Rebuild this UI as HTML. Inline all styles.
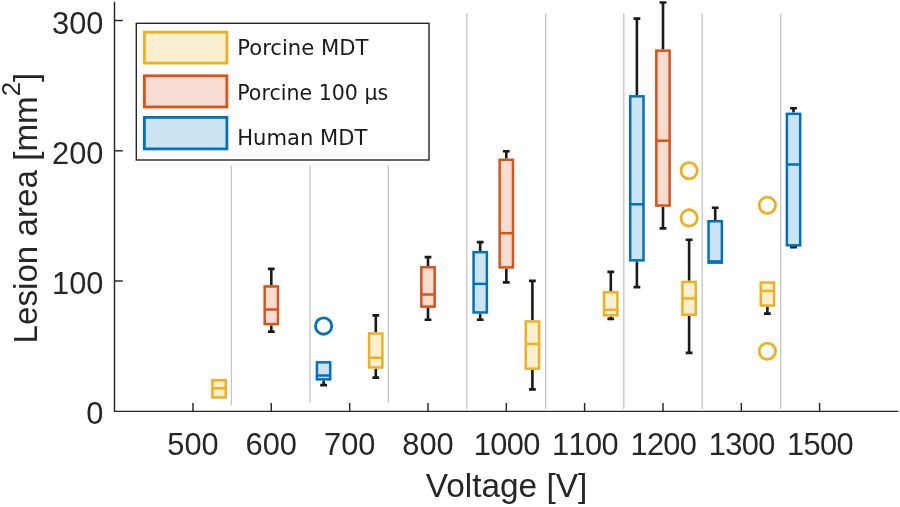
<!DOCTYPE html>
<html lang="en">
<head>
<meta charset="utf-8">
<title>Lesion area vs Voltage</title>
<style>
html,body{margin:0;padding:0;background:#fff;}
body{width:900px;height:507px;overflow:hidden;}
svg{display:block;}
.tick{font-kerning:none;font-family:"Liberation Sans",sans-serif;font-size:30.8px;fill:#262626;}
.lab{font-family:"Liberation Sans",sans-serif;font-size:33.4px;fill:#262626;}
.leg{font-family:"DejaVu Sans","Liberation Sans",sans-serif;font-size:20.5px;fill:#1a1a1a;}
</style>
</head>
<body>
<svg width="900" height="507" viewBox="0 0 900 507">
<rect x="0" y="0" width="900" height="507" fill="#ffffff"/>

<g stroke="#c6c6c6" stroke-width="1.3" fill="none">
<line x1="231.4" y1="165.5" x2="231.4" y2="405.2"/>
<line x1="310.0" y1="165.5" x2="310.0" y2="402.8"/>
<line x1="388.3" y1="165.5" x2="388.3" y2="402.8"/>
<line x1="466.7" y1="13.2" x2="466.7" y2="409.1"/>
<line x1="545.7" y1="13.2" x2="545.7" y2="409.1"/>
<line x1="623.8" y1="13.2" x2="623.8" y2="409.1"/>
<line x1="702.2" y1="13.2" x2="702.2" y2="409.1"/>
<line x1="780.7" y1="13.2" x2="780.7" y2="409.1"/>
</g>
<g>
<rect x="212.45" y="380.25" width="13.30" height="17.20" fill="#FBEFD2" stroke="#EDB120" stroke-width="2.5"/>
<line x1="212.45" y1="388.3" x2="225.75" y2="388.3" stroke="#EDB120" stroke-width="2.5"/>
</g>
<g>
<path d="M271.3 285.2V268.9M267.9 268.9H274.7" stroke="#1a1a1a" stroke-width="2.6" fill="none"/>
<path d="M271.3 325.4V331.6M267.9 331.6H274.7" stroke="#1a1a1a" stroke-width="2.6" fill="none"/>
<rect x="264.68" y="286.45" width="13.30" height="37.70" fill="#F7DDD1" stroke="#D95319" stroke-width="2.5"/>
<line x1="264.68" y1="309.5" x2="277.98" y2="309.5" stroke="#D95319" stroke-width="2.5"/>
</g>
<g>
<path d="M323.6 380.6V385.1M320.2 385.1H327.0" stroke="#1a1a1a" stroke-width="2.6" fill="none"/>
<rect x="316.91" y="362.35" width="13.30" height="17.00" fill="#CCE3F2" stroke="#0072BD" stroke-width="2.5"/>
<line x1="316.91" y1="375.5" x2="330.21" y2="375.5" stroke="#0072BD" stroke-width="2.5"/>
<circle cx="323.6" cy="326.1" r="8.15" fill="none" stroke="#0072BD" stroke-width="2.8"/>
</g>
<g>
<path d="M375.8 332.2V315.4M372.4 315.4H379.2" stroke="#1a1a1a" stroke-width="2.6" fill="none"/>
<path d="M375.8 368.7V377.6M372.4 377.6H379.2" stroke="#1a1a1a" stroke-width="2.6" fill="none"/>
<rect x="369.11" y="333.45" width="13.30" height="34.00" fill="#FBEFD2" stroke="#EDB120" stroke-width="2.5"/>
<line x1="369.11" y1="357.8" x2="382.41" y2="357.8" stroke="#EDB120" stroke-width="2.5"/>
</g>
<g>
<path d="M428.0 266.0V257.1M424.6 257.1H431.4" stroke="#1a1a1a" stroke-width="2.6" fill="none"/>
<path d="M428.0 307.9V319.8M424.6 319.8H431.4" stroke="#1a1a1a" stroke-width="2.6" fill="none"/>
<rect x="421.34" y="267.25" width="13.30" height="39.40" fill="#F7DDD1" stroke="#D95319" stroke-width="2.5"/>
<line x1="421.34" y1="294.5" x2="434.64" y2="294.5" stroke="#D95319" stroke-width="2.5"/>
</g>
<g>
<path d="M480.2 250.9V242.1M476.8 242.1H483.6" stroke="#1a1a1a" stroke-width="2.6" fill="none"/>
<path d="M480.2 313.7V319.8M476.8 319.8H483.6" stroke="#1a1a1a" stroke-width="2.6" fill="none"/>
<rect x="473.57" y="252.15" width="13.30" height="60.30" fill="#CCE3F2" stroke="#0072BD" stroke-width="2.5"/>
<line x1="473.57" y1="283.9" x2="486.87" y2="283.9" stroke="#0072BD" stroke-width="2.5"/>
</g>
<g>
<path d="M506.3 158.5V151.3M502.9 151.3H509.7" stroke="#1a1a1a" stroke-width="2.6" fill="none"/>
<path d="M506.3 268.7V282.4M502.9 282.4H509.7" stroke="#1a1a1a" stroke-width="2.6" fill="none"/>
<rect x="499.67" y="159.75" width="13.30" height="107.70" fill="#F7DDD1" stroke="#D95319" stroke-width="2.5"/>
<line x1="499.67" y1="233.2" x2="512.97" y2="233.2" stroke="#D95319" stroke-width="2.5"/>
</g>
<g>
<path d="M532.4 320.2V280.9M529.0 280.9H535.8" stroke="#1a1a1a" stroke-width="2.6" fill="none"/>
<path d="M532.4 369.9V389.4M529.0 389.4H535.8" stroke="#1a1a1a" stroke-width="2.6" fill="none"/>
<rect x="525.77" y="321.45" width="13.30" height="47.20" fill="#FBEFD2" stroke="#EDB120" stroke-width="2.5"/>
<line x1="525.77" y1="344.0" x2="539.07" y2="344.0" stroke="#EDB120" stroke-width="2.5"/>
</g>
<g>
<path d="M610.8 291.0V271.9M607.4 271.9H614.1" stroke="#1a1a1a" stroke-width="2.6" fill="none"/>
<path d="M610.8 316.6V318.9M607.4 318.9H614.1" stroke="#1a1a1a" stroke-width="2.6" fill="none"/>
<rect x="604.10" y="292.25" width="13.30" height="23.10" fill="#FBEFD2" stroke="#EDB120" stroke-width="2.5"/>
<line x1="604.10" y1="309.9" x2="617.40" y2="309.9" stroke="#EDB120" stroke-width="2.5"/>
</g>
<g>
<path d="M636.9 95.1V18.6M633.5 18.6H640.3" stroke="#1a1a1a" stroke-width="2.6" fill="none"/>
<path d="M636.9 261.6V287.1M633.5 287.1H640.3" stroke="#1a1a1a" stroke-width="2.6" fill="none"/>
<rect x="630.23" y="96.35" width="13.30" height="164.00" fill="#CCE3F2" stroke="#0072BD" stroke-width="2.5"/>
<line x1="630.23" y1="204.3" x2="643.53" y2="204.3" stroke="#0072BD" stroke-width="2.5"/>
</g>
<g>
<path d="M663.0 49.4V2.5M659.6 2.5H666.4" stroke="#1a1a1a" stroke-width="2.6" fill="none"/>
<path d="M663.0 206.8V228.4M659.6 228.4H666.4" stroke="#1a1a1a" stroke-width="2.6" fill="none"/>
<rect x="656.33" y="50.65" width="13.30" height="154.90" fill="#F7DDD1" stroke="#D95319" stroke-width="2.5"/>
<line x1="656.33" y1="140.7" x2="669.63" y2="140.7" stroke="#D95319" stroke-width="2.5"/>
</g>
<g>
<path d="M689.1 280.7V239.7M685.7 239.7H692.5" stroke="#1a1a1a" stroke-width="2.6" fill="none"/>
<path d="M689.1 316.0V352.9M685.7 352.9H692.5" stroke="#1a1a1a" stroke-width="2.6" fill="none"/>
<rect x="682.43" y="281.95" width="13.30" height="32.80" fill="#FBEFD2" stroke="#EDB120" stroke-width="2.5"/>
<line x1="682.43" y1="298.4" x2="695.73" y2="298.4" stroke="#EDB120" stroke-width="2.5"/>
<circle cx="689.1" cy="170.8" r="8.15" fill="none" stroke="#EDB120" stroke-width="2.8"/>
<circle cx="689.1" cy="217.9" r="8.15" fill="none" stroke="#EDB120" stroke-width="2.8"/>
</g>
<g>
<path d="M715.2 220.0V207.8M711.8 207.8H718.6" stroke="#1a1a1a" stroke-width="2.6" fill="none"/>
<rect x="708.56" y="221.25" width="13.30" height="41.40" fill="#CCE3F2" stroke="#0072BD" stroke-width="2.5"/>
<line x1="708.56" y1="261.4" x2="721.86" y2="261.4" stroke="#0072BD" stroke-width="2.5"/>
</g>
<g>
<path d="M767.4 306.8V313.6M764.0 313.6H770.8" stroke="#1a1a1a" stroke-width="2.6" fill="none"/>
<rect x="760.76" y="282.55" width="13.30" height="23.00" fill="#FBEFD2" stroke="#EDB120" stroke-width="2.5"/>
<line x1="760.76" y1="290.9" x2="774.06" y2="290.9" stroke="#EDB120" stroke-width="2.5"/>
<circle cx="767.4" cy="205.2" r="8.15" fill="none" stroke="#EDB120" stroke-width="2.8"/>
<circle cx="767.4" cy="351.2" r="8.15" fill="none" stroke="#EDB120" stroke-width="2.8"/>
</g>
<g>
<path d="M793.5 112.6V108.3M790.1 108.3H796.9" stroke="#1a1a1a" stroke-width="2.6" fill="none"/>
<path d="M793.5 246.6V247.3M790.1 247.3H796.9" stroke="#1a1a1a" stroke-width="2.6" fill="none"/>
<rect x="786.89" y="113.85" width="13.30" height="131.50" fill="#CCE3F2" stroke="#0072BD" stroke-width="2.5"/>
<line x1="786.89" y1="164.5" x2="800.19" y2="164.5" stroke="#0072BD" stroke-width="2.5"/>
</g>
<g stroke="#262626" stroke-width="1.45" fill="none">
<path d="M114.5 1.8V411.35H898.5"/>
<line x1="193.0" y1="411.35" x2="193.0" y2="403"/>
<line x1="271.3" y1="411.35" x2="271.3" y2="403"/>
<line x1="349.7" y1="411.35" x2="349.7" y2="403"/>
<line x1="428.0" y1="411.35" x2="428.0" y2="403"/>
<line x1="506.3" y1="411.35" x2="506.3" y2="403"/>
<line x1="584.6" y1="411.35" x2="584.6" y2="403"/>
<line x1="663.0" y1="411.35" x2="663.0" y2="403"/>
<line x1="741.3" y1="411.35" x2="741.3" y2="403"/>
<line x1="819.6" y1="411.35" x2="819.6" y2="403"/>
<line x1="114.5" y1="281.0" x2="122.8" y2="281.0"/>
<line x1="114.5" y1="150.8" x2="122.8" y2="150.8"/>
<line x1="114.5" y1="20.5" x2="122.8" y2="20.5"/>
</g>
<g class="tick" text-anchor="middle">
<text x="193.0" y="454.5">500</text>
<text x="271.3" y="454.5">600</text>
<text x="349.7" y="454.5">700</text>
<text x="428.0" y="454.5">800</text>
<text x="507.0" y="454.5" textLength="66.6" lengthAdjust="spacing">1000</text>
<text x="585.4" y="454.5" textLength="66.6" lengthAdjust="spacing">1100</text>
<text x="663.7" y="454.5" textLength="66.6" lengthAdjust="spacing">1200</text>
<text x="742.0" y="454.5" textLength="66.6" lengthAdjust="spacing">1300</text>
<text x="820.3" y="454.5" textLength="66.6" lengthAdjust="spacing">1500</text>
</g>
<g class="tick" text-anchor="end">
<text x="103.5" y="424.4">0</text>
<text x="103.5" y="294.2">100</text>
<text x="103.5" y="163.9">200</text>
<text x="103.5" y="33.7">300</text>
</g>
<text class="lab" x="506.5" y="497" text-anchor="middle">Voltage [V]</text>
<text class="lab" transform="translate(37,208.1) rotate(-90)" text-anchor="middle" style="font-size:33.2px">Lesion area [mm<tspan dy="-17" font-size="25.8">2</tspan><tspan dy="17">]</tspan></text>
<rect x="136.3" y="23.3" width="292.7" height="136.7" fill="#ffffff" stroke="#262626" stroke-width="1.4"/>
<rect x="144.40" y="32.20" width="82.50" height="30.90" fill="#FBEFD2" stroke="#EDB120" stroke-width="2.8"/>
<text class="leg" x="237.2" y="55.0" textLength="131.3" lengthAdjust="spacingAndGlyphs">Porcine MDT</text>
<rect x="144.40" y="75.80" width="82.50" height="31.20" fill="#F7DDD1" stroke="#D95319" stroke-width="2.8"/>
<text class="leg" x="237.2" y="100.1" textLength="151.1" lengthAdjust="spacingAndGlyphs">Porcine 100 µs</text>
<rect x="144.40" y="117.40" width="82.50" height="31.50" fill="#CCE3F2" stroke="#0072BD" stroke-width="2.8"/>
<text class="leg" x="237.2" y="145.0" textLength="130.2" lengthAdjust="spacingAndGlyphs">Human MDT</text>
</svg>
</body>
</html>
